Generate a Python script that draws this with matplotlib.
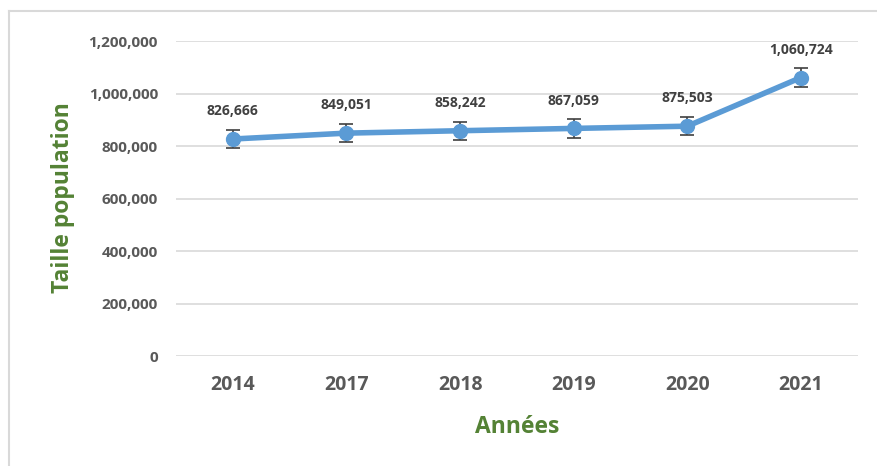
import matplotlib
matplotlib.use('Agg')
import matplotlib.pyplot as plt
from matplotlib.lines import Line2D
from matplotlib.ticker import FuncFormatter

# data
years = ['2014', '2017', '2018', '2019', '2020', '2021']
population = [826666, 849051, 858242, 867059, 875503, 1060724]
err = [35000, 35000, 35000, 35000, 35000, 35000]

blue = '#5B9BD5'
green = '#548235'
gray = '#595959'
dark = '#404040'
plt.rcParams['font.family'] = ['Open Sans', 'DejaVu Sans']

fig = plt.figure(figsize=(8.77, 4.66), dpi=100)
ax = fig.add_axes([0.2007, 0.236, 0.978 - 0.2007, 0.912 - 0.236])

x = list(range(len(years)))
ax.errorbar(x, population, yerr=err, color=blue, lw=4, marker='o', ms=10,
            ecolor=dark, elinewidth=1.2, capsize=5, capthick=1.2, zorder=3)
for xi, v in zip(x, population):
    ax.annotate('{:,}'.format(v), (xi, v), xytext=(0, 20), textcoords='offset points',
                ha='center', va='center', fontsize=10, fontweight='bold', color=dark)

ax.set_xlim(-0.5, len(years) - 0.5)
ax.set_ylim(0, 1200000)
ax.set_yticks(range(0, 1200001, 200000))
ax.yaxis.set_major_formatter(FuncFormatter(lambda v, p: '{:,}'.format(int(v))))
ax.set_xticks(x)
ax.set_xticklabels(years)
ax.grid(axis='y', color='#D9D9D9', lw=1.2)
ax.set_axisbelow(True)
for s in ax.spines.values():
    s.set_visible(False)
ax.tick_params(axis='both', length=0, colors=gray)
ax.tick_params(axis='y', labelsize=11, pad=13)
ax.tick_params(axis='x', labelsize=14, pad=14)
for lbl in ax.get_xticklabels() + ax.get_yticklabels():
    lbl.set_fontweight('bold')

fig.text(0.072, 0.575, 'Taille population', rotation=90, ha='center', va='center',
         fontsize=16.5, fontweight='bold', color=green)
fig.text(0.59, 0.084, 'Années', ha='center', va='center',
         fontsize=16.5, fontweight='bold', color=green)

# chart area frame (left and top edges visible)
fig.add_artist(Line2D([0.0103, 0.0103], [0, 0.976], color='#D9D9D9', lw=1.5))
fig.add_artist(Line2D([0.0103, 1.0], [0.976, 0.976], color='#D9D9D9', lw=1.5))

fig.savefig('out.png', dpi=100)
